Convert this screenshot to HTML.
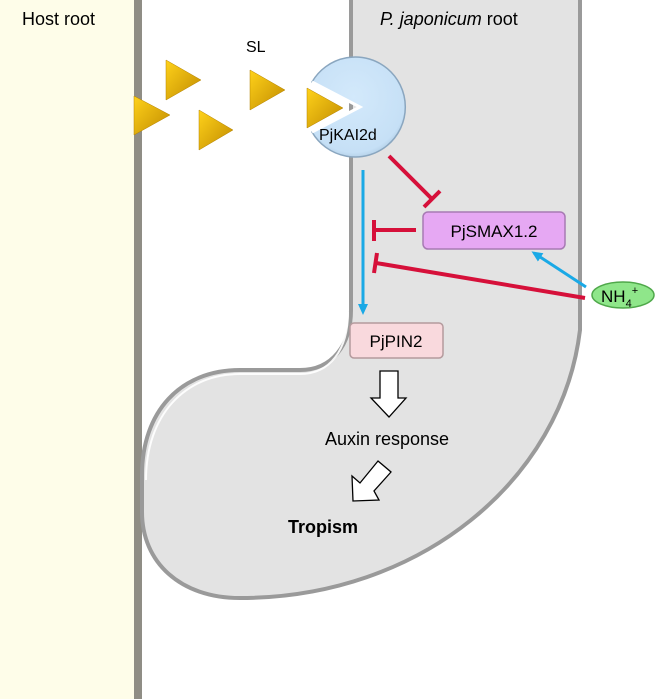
<!DOCTYPE html>
<html><head><meta charset="utf-8"><style>
html,body{margin:0;padding:0;background:#fff}
svg{display:block}
text{font-family:"Liberation Sans",Arial,sans-serif}
</style></head><body>
<svg width="655" height="699" viewBox="0 0 655 699" xmlns="http://www.w3.org/2000/svg">
<defs>
<linearGradient id="tri" x1="0" y1="0" x2="1" y2="1">
<stop offset="0" stop-color="#ffd21a"/><stop offset="1" stop-color="#c08a00"/>
</linearGradient>
<radialGradient id="ball" cx="0.45" cy="0.4" r="0.65">
<stop offset="0" stop-color="#d3e9fb"/><stop offset="0.85" stop-color="#c6e0f6"/><stop offset="1" stop-color="#a9c6de"/>
</radialGradient>
<marker id="ab" markerWidth="11" markerHeight="10" refX="8" refY="5" orient="auto" markerUnits="userSpaceOnUse">
<path d="M0,0 L11,5 L0,10 Z" fill="#1aa9e6"/>
</marker>
</defs>
<rect x="0" y="0" width="135" height="699" fill="#fefde9"/>
<rect x="134" y="0" width="8" height="699" fill="#8f8d85"/>
<path d="M351,-10 L580,-10 L580,330 C562,480 420,598 240,598 C180,598 142,562 142,512 L142,475 C142,412 180,370 240,370 L300,370 C332,370 351,345 351,310 Z" fill="#e3e3e3" stroke="#9a9a9a" stroke-width="4"/>
<path d="M146,480 C146,415 185,374 240,374 L300,374 C330,374 348,350 348,312" fill="none" stroke="#fff" stroke-width="2" opacity="0.9"/>
<text x="22" y="25" font-size="18" fill="#000">Host root</text>
<text x="246" y="52" font-size="16" fill="#000">SL</text>
<text x="380" y="25" font-size="18" fill="#000"><tspan font-style="italic">P. japonicum</tspan> root</text>
<g fill="url(#tri)" stroke="#b58300" stroke-width="0.5">
<path d="M166,60 L201,80 L166,100 Z"/>
<path d="M134,96 L170,115 L134,135 Z"/>
<path d="M199,110 L233,130 L199,150 Z"/>
<path d="M250,70 L285,90 L250,110 Z"/>
</g>
<path d="M360,107 L312,82 A50,50 0 1 1 312,132 Z" fill="url(#ball)" stroke="#8aa6bf" stroke-width="1.5"/>
<path d="M312,82 L360,107 L312,132" stroke="#fff" stroke-width="3" fill="none"/>
<path d="M307,88 L343,108 L307,128 Z" fill="url(#tri)" stroke="#b58300" stroke-width="0.5"/>
<text x="319" y="140" font-size="16" fill="#000">PjKAI2d</text>
<line x1="363" y1="170" x2="363" y2="312" stroke="#1aa9e6" stroke-width="3" marker-end="url(#ab)"/>
<line x1="586" y1="287" x2="534" y2="253" stroke="#1aa9e6" stroke-width="3" marker-end="url(#ab)"/>
<g stroke="#d6103a" stroke-width="4" fill="none">
<line x1="389" y1="156" x2="432" y2="199"/><line x1="424" y1="207" x2="440" y2="191"/>
<line x1="416" y1="230" x2="375" y2="230"/><line x1="374" y1="220" x2="374" y2="241"/>
<line x1="585" y1="298" x2="376" y2="263"/><line x1="377" y1="253" x2="374" y2="273"/>
</g>
<rect x="423" y="212" width="142" height="37" rx="5" fill="#e6a8f3" stroke="#a77ab3" stroke-width="1.5"/>
<text x="494" y="237" font-size="17" text-anchor="middle" fill="#000">PjSMAX1.2</text>
<ellipse cx="623" cy="295" rx="31" ry="13" fill="#8fe68a" stroke="#4fa84a" stroke-width="1.5"/>
<text x="601" y="302" font-size="17" fill="#000">NH<tspan font-size="11" dy="5">4</tspan><tspan font-size="11" dy="-13">+</tspan></text>
<rect x="350" y="323" width="93" height="35" rx="4" fill="#f9d9dd" stroke="#b49a9d" stroke-width="1.5"/>
<text x="396" y="347" font-size="17" text-anchor="middle" fill="#000">PjPIN2</text>
<path d="M380,371 L398,371 L398,398 L406,398 L389,417 L371,398 L380,398 Z" fill="#fff" stroke="#000" stroke-width="1.3"/>
<text x="387" y="445" font-size="18" text-anchor="middle" fill="#000">Auxin response</text>
<path d="M378,461 L391,472 L374,491 L379,500 L353,501 L352,476 L360,483 Z" fill="#fff" stroke="#000" stroke-width="1.3"/>
<text x="288" y="533" font-size="18" font-weight="bold" fill="#000">Tropism</text>
</svg>
</body></html>
